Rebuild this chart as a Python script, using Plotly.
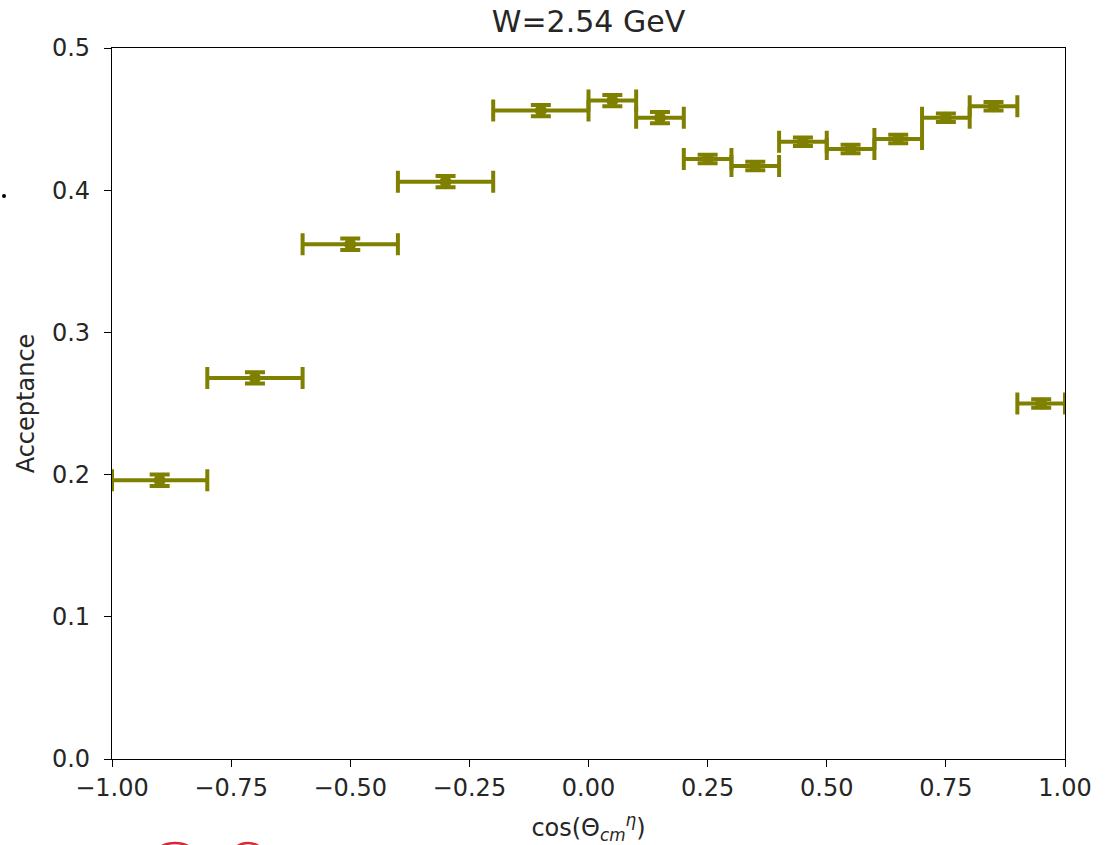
import plotly.graph_objects as go

# Bin centres, half-widths and acceptance values
cos_theta = [-0.9, -0.7, -0.5, -0.3, -0.1, 0.05, 0.15, 0.25, 0.35, 0.45, 0.55, 0.65, 0.75, 0.85, 0.95]
bin_halfwidth = [0.1, 0.1, 0.1, 0.1, 0.1, 0.05, 0.05, 0.05, 0.05, 0.05, 0.05, 0.05, 0.05, 0.05, 0.05]
acceptance = [0.196, 0.268, 0.362, 0.406, 0.456, 0.463, 0.451, 0.422, 0.417, 0.434, 0.429, 0.436, 0.451, 0.459, 0.250]
acceptance_err = [0.004, 0.004, 0.004, 0.004, 0.004, 0.004, 0.004, 0.003, 0.003, 0.003, 0.003, 0.003, 0.003, 0.003, 0.003]

x_ticks = [-1.0, -0.75, -0.5, -0.25, 0.0, 0.25, 0.5, 0.75, 1.0]
y_ticks = [0.0, 0.1, 0.2, 0.3, 0.4, 0.5]

OLIVE = "#808000"
FONT = "DejaVu Sans"
TXT = "#262626"

fig = go.Figure()
fig.add_trace(go.Scatter(
    x=cos_theta,
    y=acceptance,
    mode="markers",
    marker=dict(color=OLIVE, size=12, symbol="circle"),
    error_x=dict(type="data", array=bin_halfwidth, visible=True,
                 color=OLIVE, thickness=4, width=11),
    error_y=dict(type="data", array=acceptance_err, visible=True,
                 color=OLIVE, thickness=4, width=10),
    cliponaxis=False,
    showlegend=False,
))

axis_common = dict(
    showline=True, linecolor="black", linewidth=1.3, mirror=True,
    ticks="outside", ticklen=7, tickwidth=1.2, tickcolor="black",
    showgrid=False, zeroline=False, automargin=False,
    tickfont=dict(family=FONT, size=24, color=TXT),
)

fig.update_layout(
    width=1107, height=845,
    margin=dict(l=112, r=42, t=48, b=86),
    paper_bgcolor="white", plot_bgcolor="white",
    font=dict(family=FONT, color=TXT),
    title=dict(text="W=2.54 GeV", x=0.5, xref="paper", xanchor="center",
               y=1 - 21 / 845, yref="container", yanchor="middle",
               font=dict(family=FONT, size=30, color=TXT)),
    xaxis=dict(range=[-1.0, 1.0], tickvals=x_ticks, tickformat=".2f",
               title=dict(text="cos(Θ<sub><i>cm</i></sub><sup><i>η</i></sup>)",
                          font=dict(family=FONT, size=24, color=TXT), standoff=18),
               **axis_common),
    yaxis=dict(range=[0.0, 0.5], tickvals=y_ticks, tickformat=".1f",
               ticklabelstandoff=9,
               title=dict(text="Acceptance",
                          font=dict(family=FONT, size=24, color=TXT), standoff=10),
               **axis_common),
)

# small stray dot at the left edge of the canvas
fig.add_shape(type="circle", xref="paper", yref="paper",
              x0=-0.1154, x1=-0.1112, y0=0.7890, y1=0.7946,
              fillcolor="black", line=dict(width=0))

# red outlines peeking in at the bottom edge
fig.add_shape(type="circle", xref="paper", yref="paper",
              x0=(145 - 112) / 953, x1=(205 - 112) / 953,
              y0=(759 - 905) / 711, y1=(759 - 843) / 711,
              line=dict(color="#d42a36", width=2.5))
fig.add_shape(type="circle", xref="paper", yref="paper",
              x0=(226 - 112) / 953, x1=(270 - 112) / 953,
              y0=(759 - 895) / 711, y1=(759 - 843) / 711,
              line=dict(color="#d42a36", width=2.5))

fig.write_html("out.html")
